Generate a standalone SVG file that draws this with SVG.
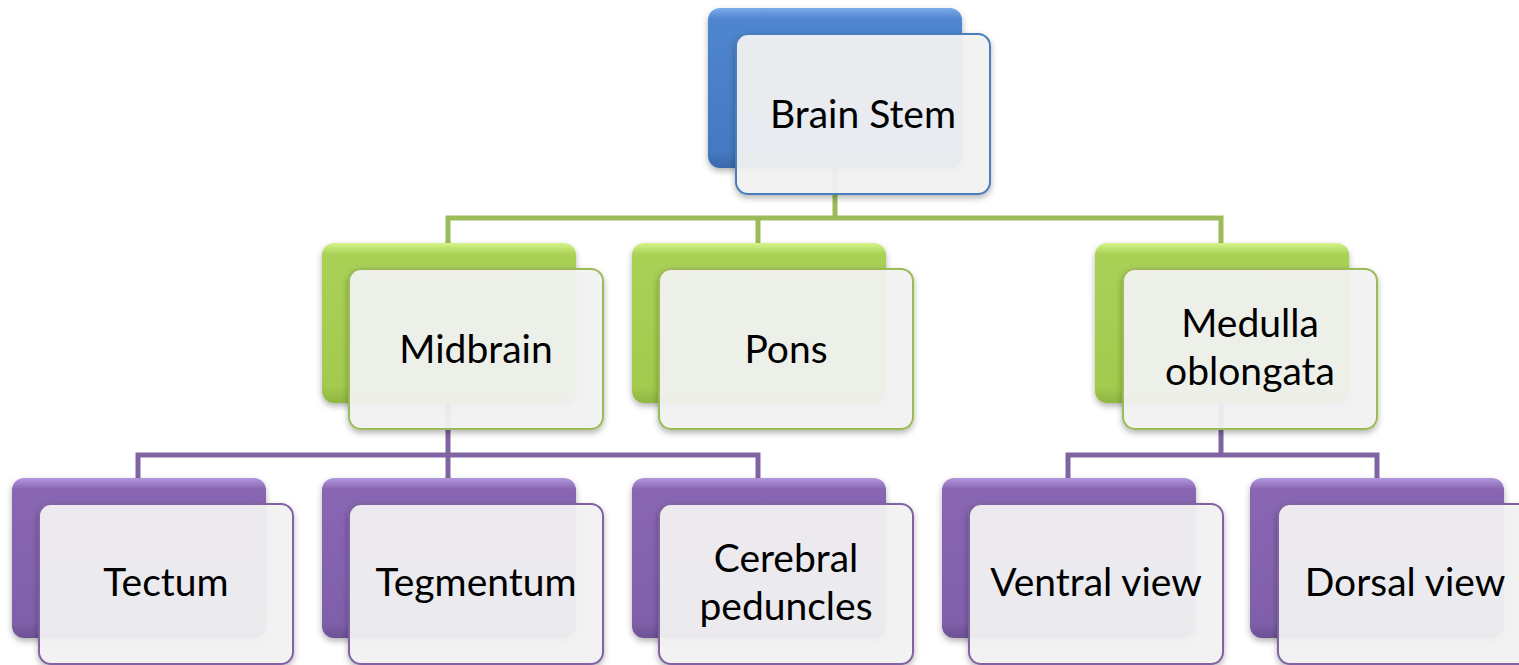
<svg xmlns="http://www.w3.org/2000/svg" width="1519" height="665" viewBox="0 0 1519 665">
<defs>
<linearGradient id="gBlue" x1="0" y1="0" x2="0" y2="1">
<stop offset="0" stop-color="#7aaae8"/><stop offset="0.07" stop-color="#4f86cf"/><stop offset="0.9" stop-color="#4479c2"/><stop offset="1" stop-color="#3a68a8"/>
</linearGradient>
<linearGradient id="gGreen" x1="0" y1="0" x2="0" y2="1">
<stop offset="0" stop-color="#d4f48a"/><stop offset="0.07" stop-color="#a9d155"/><stop offset="0.9" stop-color="#a2ca4e"/><stop offset="1" stop-color="#8fb540"/>
</linearGradient>
<linearGradient id="gPurple" x1="0" y1="0" x2="0" y2="1">
<stop offset="0" stop-color="#b197dc"/><stop offset="0.07" stop-color="#8966b3"/><stop offset="0.9" stop-color="#8060aa"/><stop offset="1" stop-color="#6d5094"/>
</linearGradient>
<filter id="sh" x="-10%" y="-10%" width="125%" height="130%">
<feDropShadow dx="0" dy="3" stdDeviation="3" flood-color="#000" flood-opacity="0.3"/>
</filter>
</defs>
<style>
.back{filter:url(#sh)}
.front{fill:#f3f3f3;fill-opacity:0.93;stroke-width:2;filter:url(#sh)}
.blue .back{fill:url(#gBlue)} .blue .front{stroke:#4a7ebb}
.green .back{fill:url(#gGreen)} .green .front{stroke:#9bbb59}
.purple .back{fill:url(#gPurple)} .purple .front{stroke:#8064a2}
text{font-family:Lato,"Open Sans","Liberation Sans",sans-serif;font-size:39px;fill:#000;text-anchor:middle}
.cg{stroke:#9bbb59;stroke-width:5;fill:none}
.cp{stroke:#8064a2;stroke-width:5;fill:none}
</style>
<g id="connectors">
<path class="cg" d="M835 168V218M448 243V218H1221V243M758 218V243"/>
<path class="cp" d="M448 403V455M138 478V455H758V478M448 455V478"/>
<path class="cp" d="M1221 403V455M1068 478V455H1377V478"/>
</g>
<g id="brainstem" class="blue">
<rect class="back" x="708" y="8" width="254" height="160" rx="12"/>
<rect class="front" x="736" y="34" width="254" height="160" rx="12"/>
<text x="863" y="128">Brain Stem</text>
</g>
<g id="midbrain" class="green">
<rect class="back" x="322" y="243" width="254" height="160" rx="12"/>
<rect class="front" x="349" y="269" width="254" height="160" rx="12"/>
<text x="476" y="363">Midbrain</text>
</g>
<g id="pons" class="green">
<rect class="back" x="632" y="243" width="254" height="160" rx="12"/>
<rect class="front" x="659" y="269" width="254" height="160" rx="12"/>
<text x="786" y="363">Pons</text>
</g>
<g id="medulla" class="green">
<rect class="back" x="1095" y="243" width="254" height="160" rx="12"/>
<rect class="front" x="1123" y="269" width="254" height="160" rx="12"/>
<text x="1250" y="337">Medulla</text>
<text x="1250" y="385">oblongata</text>
</g>
<g id="tectum" class="purple">
<rect class="back" x="12" y="478" width="254" height="160" rx="12"/>
<rect class="front" x="39" y="504" width="254" height="160" rx="12"/>
<text x="166" y="596">Tectum</text>
</g>
<g id="tegmentum" class="purple">
<rect class="back" x="322" y="478" width="254" height="160" rx="12"/>
<rect class="front" x="349" y="504" width="254" height="160" rx="12"/>
<text x="476" y="596">Tegmentum</text>
</g>
<g id="cerebral" class="purple">
<rect class="back" x="632" y="478" width="254" height="160" rx="12"/>
<rect class="front" x="659" y="504" width="254" height="160" rx="12"/>
<text x="786" y="572">Cerebral</text>
<text x="786" y="620">peduncles</text>
</g>
<g id="ventral" class="purple">
<rect class="back" x="942" y="478" width="254" height="160" rx="12"/>
<rect class="front" x="969" y="504" width="254" height="160" rx="12"/>
<text x="1096" y="596">Ventral view</text>
</g>
<g id="dorsal" class="purple">
<rect class="back" x="1250" y="478" width="254" height="160" rx="12"/>
<rect class="front" x="1278" y="504" width="254" height="160" rx="12"/>
<text x="1405" y="596">Dorsal view</text>
</g>
</svg>
